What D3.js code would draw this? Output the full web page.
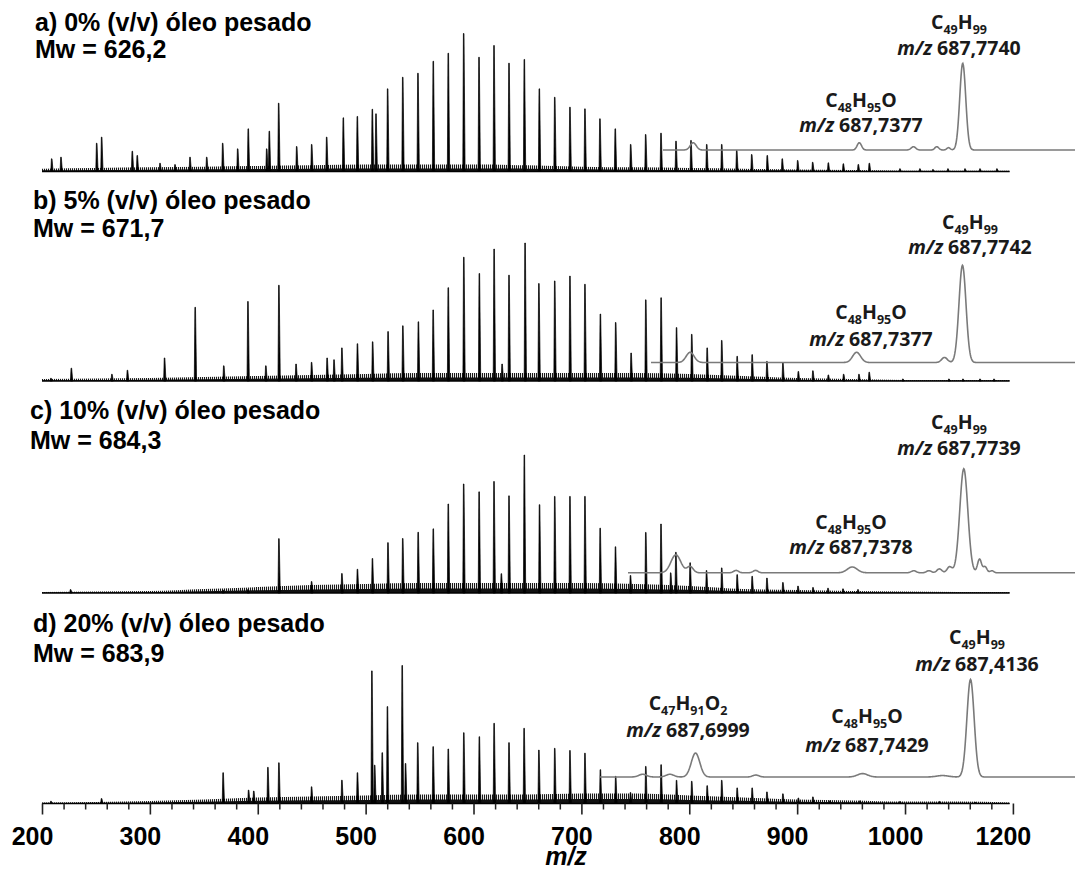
<!DOCTYPE html>
<html>
<head>
<meta charset="utf-8">
<script src="https://d3js.org/d3.v7.min.js"></script>
<style>
  body { margin: 0; background: #fff; }
  .title { font-family: "Liberation Sans", Arial, sans-serif; font-weight: bold; font-size: 25px; fill: #000; }
  .tick-label { font-family: "Liberation Sans", Arial, sans-serif; font-weight: bold; font-size: 25px; fill: #000; }
  .peak-label { font-family: "Open Sans", sans-serif; font-weight: 700; font-size: 19.5px; fill: #1a1a1a; }
</style>
</head>
<body>
<svg id="chart" width="1075" height="869">
  <defs>
    <pattern id="hatch" width="2" height="6" patternUnits="userSpaceOnUse">
      <rect width="1.1" height="6" fill="#000"></rect>
    </pattern>
  </defs>
</svg>
<script>
// ---- data ----
const titles = ["a) 0% (v/v) óleo pesado", "b) 5% (v/v) óleo pesado", "c) 10% (v/v) óleo pesado", "d) 20% (v/v) óleo pesado"];
const mwValues = ["Mw = 626,2", "Mw = 671,7", "Mw = 684,3", "Mw = 683,9"];

// main spectra: [m/z, relative intensity %]
const peaksA = [[209.0, 9.2], [217.6, 10.4], [250.7, 20.5], [255.3, 24.9], [283.7, 14.7], [288.3, 11.6], [309.4, 6], [323.3, 5],
  [337.2, 10.4], [352.7, 10.4], [367.5, 20.5], [381.4, 16.4], [391.2, 30.9], [408.3, 16.4], [410.7, 29.2], [419.4, 49.5],
  [436.1, 18.1], [450.0, 19.6], [463.9, 24.9], [479.3, 38.9], [492.3, 39.9], [506.2, 45.1], [509.6, 41.8], [520.4, 59.9],
  [534.4, 68.3], [548.5, 71.2], [562.7, 79.9], [576.6, 85.7], [590.9, 100], [605.1, 82.8], [619.0, 91.3], [632.9, 78.5],
  [647.1, 81.2], [661.0, 59.9], [675.3, 53.8], [689.4, 46.6], [703.3, 45.4], [717.2, 38.2], [731.4, 30.9], [745.7, 19.6],
  [759.6, 26.8], [773.8, 27.8], [787.7, 22], [801.6, 22.5], [816.2, 19.6], [830.1, 19.6], [844.0, 15.2], [857.9, 12.3],
  [872.3, 11.6], [886.2, 9.2], [900.5, 8], [914.4, 6.7], [928.9, 6.3], [942.8, 5.6], [956.7, 5.1], [966.9, 6],
  [995.3, 2], [1013.8, 2], [1025.9, 1.5], [1039.8, 2], [1055.6, 2], [1069.5, 2], [1085.2, 2]];
const peaksB = [[208.3, 2], [227.2, 9.3], [264.8, 4.9], [279.2, 7.8], [313.6, 16.7], [342.0, 53.4], [368.5, 11], [390.9, 57.6],
  [407.5, 11], [419.6, 69.4], [435.5, 12.3], [449.9, 13.5], [464.3, 16.7], [470.7, 15.4], [478.0, 24], [492.4, 27],
  [506.5, 28.4], [520.8, 35.8], [534.5, 40], [548.9, 42.9], [562.6, 51.5], [576.6, 67.6], [591.0, 89.7], [605.4, 77.9],
  [619.1, 95.6], [626.5, 12.3], [632.9, 76.7], [647.8, 100], [660.6, 70.6], [675.3, 72.5], [689.4, 76], [703.3, 70.1],
  [717.6, 48.5], [731.8, 42.4], [746.1, 20.3], [759.7, 58.8], [773.9, 60.3], [788.2, 38.7], [802.3, 33.8], [816.6, 24],
  [830.1, 29.4], [844.4, 17.9], [858.3, 19.1], [872.0, 14.2], [886.8, 13], [901.1, 6.9], [914.6, 7.4], [928.9, 4.4],
  [943.1, 4.9], [957.3, 4.9], [966.8, 6.4], [998.0, 1.5], [1040.7, 1.5], [1053.7, 1.5], [1069.5, 1.5], [1082.5, 1.5]];
const peaksC = [[226.5, 2.5], [367.8, 2], [391.0, 2.5], [419.6, 39.4], [449.9, 8.3], [478.0, 14.1], [492.4, 17.2], [506.3, 25],
  [520.7, 36.5], [534.4, 39.5], [548.7, 44], [562.7, 46.5], [576.6, 64.5], [590.9, 79], [605.2, 73.3], [619.0, 80.8],
  [625.8, 14], [632.9, 70.4], [647.1, 100], [661.2, 64], [675.3, 70], [689.4, 70], [703.3, 70], [717.4, 47],
  [731.6, 33.5], [745.5, 12.7], [759.7, 43.9], [773.8, 50], [782.8, 14.6], [787.6, 29.5], [800.8, 21.9], [816.0, 16.3],
  [830.1, 18.2], [844.4, 13.3], [858.3, 12.1], [872.0, 10.8], [886.8, 7.6], [900.8, 5], [914.7, 4], [928.6, 3.5],
  [942.5, 3], [956.4, 2.5]];
const peaksD = [[208.3, 1.7], [255.2, 3.6], [367.9, 22.3], [391.5, 9.7], [396.3, 9], [409.4, 26.2], [419.6, 29.5], [449.9, 12.1],
  [478.0, 16.9], [492.4, 22.3], [505.8, 96.1], [508.4, 27.8], [515.4, 36.8], [520.2, 70.2], [533.9, 100], [537.0, 29],
  [548.3, 44.1], [562.6, 41.2], [576.6, 39.5], [591.0, 51.3], [605.4, 48.4], [619.1, 58.1], [632.9, 44.1], [646.9, 54.5],
  [660.6, 38.7], [675.3, 40], [689.4, 38.4], [703.3, 36.5], [717.6, 24.5], [731.8, 19.7], [745.5, 8], [759.7, 26.9],
  [773.9, 28.1], [788.2, 16.8], [802.3, 16.1], [816.6, 12.9], [830.1, 16.8], [844.4, 11.3], [858.3, 11.3], [872.0, 8.4],
  [886.8, 7], [901.1, 4], [914.6, 4.8], [930.5, 2], [958.3, 2], [995.3, 1.5], [1032.0, 1.5], [1064.8, 1]];

// baseline noise envelope (relative %), sampled at noiseMz
const noiseMz = [200, 250, 300, 350, 400, 450, 500, 550, 600, 650, 700, 750, 800, 850, 900, 950, 1000, 1050, 1097];
const noiseA = [2, 2.5, 3, 3.5, 4, 4.5, 5, 5, 5, 4.5, 3.5, 3, 2.5, 2, 1.5, 1, 0.6, 0.5, 0.5];
const noiseB = [1.4, 1.8, 2.2, 2.9, 3.6, 4.3, 5.1, 5.8, 5.8, 5.8, 5.8, 5.8, 5.1, 3.6, 2.2, 1.4, 0.7, 0.7, 0.7];
const noiseC = [0.7, 1.1, 1.4, 2.9, 4.3, 5.8, 6.5, 7.2, 7.2, 7.2, 7.2, 6.5, 5.1, 2.9, 2.2, 1.4, 1.1, 0.7, 0.7];
const noiseD = [0.7, 1.1, 1.8, 2.9, 4.3, 5.1, 5.8, 6.5, 6.5, 6.5, 7.2, 7.2, 5.8, 4.3, 2.9, 2.2, 1.4, 1.4, 0.7];
const spectrumEnd = 1097;

// expanded view around m/z 687: [m/z, relative %, width (sigma, m/z)]
const insetDomainA = [687.6688, 687.8134];
const insetPeaksA = [[687.6794, 8.4, 0.00105], [687.7377, 8.4, 0.00077], [687.7567, 3.8, 0.0008], [687.7649, 3.8, 0.0007],
  [687.7690, 2.7, 0.0006], [687.7740, 100, 0.00105]];
const insetDomainB = [687.6668, 687.8130];
const insetPeaksB = [[687.6803, 10.5, 0.00138], [687.7377, 10.5, 0.00138], [687.7680, 5.2, 0.001], [687.7742, 100, 0.00121]];
const insetDomainC = [687.6652, 687.8099];
const insetPeaksC = [[687.6807, 17.3, 0.0016], [687.6853, 6, 0.001], [687.7002, 2.3, 0.0008], [687.7065, 2.3, 0.0008],
  [687.7378, 5.6, 0.0016], [687.7577, 2, 0.0008], [687.7626, 2, 0.0008], [687.7660, 3.8, 0.0008], [687.7693, 5.8, 0.0008],
  [687.7739, 100, 0.0013], [687.7790, 13.2, 0.00065], [687.7808, 5.8, 0.0006], [687.7830, 2, 0.0006]];
const insetDomainD = [687.6753, 687.7976];
const insetPeaksD = [[687.6863, 2.8, 0.001], [687.6933, 2.8, 0.001], [687.6999, 24.5, 0.0011], [687.7154, 2, 0.0008],
  [687.7429, 3.5, 0.0013], [687.7635, 1.5, 0.0015], [687.7707, 100, 0.00093]];

const insetLabelsA = [["C49H99", "687,7740"], ["C48H95O", "687,7377"]];
const insetLabelsB = [["C49H99", "687,7742"], ["C48H95O", "687,7377"]];
const insetLabelsC = [["C49H99", "687,7739"], ["C48H95O", "687,7378"]];
const insetLabelsD = [["C49H99", "687,4136"], ["C47H91O2", "687,6999"], ["C48H95O", "687,7429"]];

const xTickValues = [200, 300, 400, 500, 600, 700, 800, 900, 1000, 1100];
const xTickLabels = ["200", "300", "400", "500", "600", "700", "800", "900", "1000", "1200"];

// ---- layout ----
const layout = [
  {y0: 171.5, tx: 35, ty: 31, my: 58, ix: 663, iy: 150, ih: 86.7, labels: [[959, 29, 55], [861, 107, 132]]},
  {y0: 381, tx: 33, ty: 208.5, my: 236.5, ix: 651, iy: 362.5, ih: 97.2, labels: [[970, 229, 254], [871, 319, 346]]},
  {y0: 593, tx: 30, ty: 419, my: 449, ix: 628, iy: 572.8, ih: 104, labels: [[959, 429, 455], [851, 529, 554]]},
  {y0: 803.5, tx: 33, ty: 632, my: 661.5, ix: 600, iy: 777, ih: 97.6, labels: [[977, 644, 671], [688, 710, 737], [867, 723, 752]]}
];
const panels = [
  {peaks: peaksA, noise: noiseA, dom: insetDomainA, ip: insetPeaksA, lab: insetLabelsA},
  {peaks: peaksB, noise: noiseB, dom: insetDomainB, ip: insetPeaksB, lab: insetLabelsB},
  {peaks: peaksC, noise: noiseC, dom: insetDomainC, ip: insetPeaksC, lab: insetLabelsC},
  {peaks: peaksD, noise: noiseD, dom: insetDomainD, ip: insetPeaksD, lab: insetLabelsD}
];

const svg = d3.select("#chart");
const x = d3.scaleLinear().domain([200, 1100]).range([42, 1012.9]);
const panelHeight = 138;

function formula(text, str) {
  // split "C48H95O" into element + subscript tspans
  let down = false;
  str.match(/[A-Z][a-z]?\d*/g).forEach(tok => {
    const el = tok.match(/[A-Z][a-z]?/)[0];
    const n = tok.slice(el.length);
    text.append("tspan").attr("dy", down ? -5 : 0).text(el);
    down = false;
    if (n) {
      text.append("tspan").attr("dy", 5).attr("font-size", "12.5px").text(n);
      down = true;
    }
  });
}

panels.forEach((p, i) => {
  const L = layout[i];
  const y = d3.scaleLinear().domain([0, 100]).range([L.y0, L.y0 - panelHeight]);
  const g = svg.append("g");

  // noise band: hatched envelope plus a solid core near the baseline
  const noise = d3.zip(noiseMz, p.noise);
  const area = d3.area().x(d => x(d[0])).y0(L.y0).y1(d => y(d[1])).curve(d3.curveMonotoneX);
  const core = d3.area().x(d => x(d[0])).y0(L.y0).y1(d => y(d[1] * 0.45)).curve(d3.curveMonotoneX);
  g.append("path").datum(noise).attr("d", area).attr("fill", "url(#hatch)").attr("opacity", 0.9);
  g.append("path").datum(noise).attr("d", core).attr("fill", "#111");

  g.append("line").attr("x1", x(200)).attr("x2", x(spectrumEnd))
    .attr("y1", L.y0).attr("y2", L.y0).attr("stroke", "#000").attr("stroke-width", 1.6);

  // peaks
  g.selectAll("path.peak").data(p.peaks).join("path").attr("class", "peak")
    .attr("d", d => {
      const px = x(d[0]), py = y(d[1]);
      return `M${px - 0.9},${L.y0}L${px - 0.3},${py}L${px + 0.3},${py}L${px + 1.4},${L.y0}Z`;
    })
    .attr("fill", "#000").attr("stroke", "#000").attr("stroke-width", 0.7);

  // expanded view
  const xi = d3.scaleLinear().domain(p.dom).range([L.ix, 1075]);
  const yi = d3.scaleLinear().domain([0, 100]).range([L.iy, L.iy - L.ih]);
  const profile = d3.range(0, 901).map(k => {
    const m = p.dom[0] + k / 900 * (p.dom[1] - p.dom[0]);
    return [m, d3.sum(p.ip, pk => pk[1] * Math.exp(-0.5 * ((m - pk[0]) / pk[2]) ** 2))];
  });
  g.append("path").datum(profile)
    .attr("d", d3.line().x(d => xi(d[0])).y(d => yi(d[1])))
    .attr("fill", "none").attr("stroke", "#7a7a7a").attr("stroke-width", 1.6);

  p.lab.forEach((lab, j) => {
    const [cx, fy, my] = L.labels[j];
    const t1 = g.append("text").attr("class", "peak-label").attr("x", cx).attr("y", fy).attr("text-anchor", "middle");
    formula(t1, lab[0]);
    const t2 = g.append("text").attr("class", "peak-label").attr("x", cx).attr("y", my).attr("text-anchor", "middle");
    t2.append("tspan").attr("font-style", "italic").text("m/z");
    t2.append("tspan").text(" " + lab[1]);
  });

  // titles
  g.append("text").attr("class", "title").attr("x", L.tx).attr("y", L.ty).text(titles[i]);
  g.append("text").attr("class", "title").attr("x", L.tx).attr("y", L.my).text(mwValues[i]);
});

// x axis under the last spectrum
const axisY = layout[3].y0;
const minorTicks = d3.range(200, 1101, 20).filter(v => v % 100 !== 0);
svg.append("g").attr("transform", `translate(0,${axisY})`)
  .call(d3.axisBottom(x).tickValues(minorTicks).tickSize(6).tickFormat(""))
  .call(g => g.select(".domain").remove())
  .call(g => g.selectAll("line").attr("stroke", "#222").attr("stroke-width", 1.5));
const major = svg.append("g").attr("transform", `translate(0,${axisY})`)
  .call(d3.axisBottom(x).tickValues(xTickValues).tickSize(11).tickFormat((d, i) => xTickLabels[i]))
  .call(g => g.select(".domain").remove())
  .call(g => g.selectAll("line").attr("stroke", "#222").attr("stroke-width", 1.6));
major.selectAll("text").attr("class", "tick-label").attr("font-size", null).attr("font-family", null)
  .attr("y", 24).attr("dx", -10).attr("fill", "#000");

svg.append("text").attr("class", "title").attr("x", 566).attr("y", 865).attr("text-anchor", "middle")
  .attr("font-style", "italic").text("m/z");
</script>
</body>
</html>
